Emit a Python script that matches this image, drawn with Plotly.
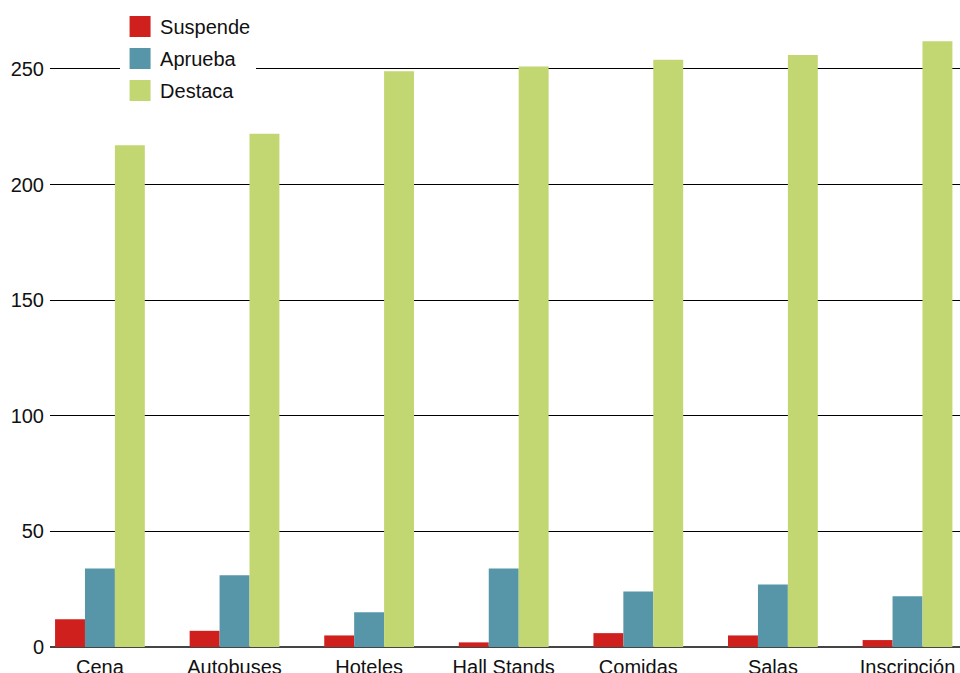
import plotly.graph_objects as go

categories = ["Cena", "Autobuses", "Hoteles", "Hall Stands", "Comidas", "Salas", "Inscripción"]
suspende = [12, 7, 5, 2, 6, 5, 3]
aprueba = [34, 31, 15, 34, 24, 27, 22]
destaca = [217, 222, 249, 251, 254, 256, 262]
series_names = ["Suspende", "Aprueba", "Destaca"]
series_colors = ["#D0201E", "#5796A8", "#C2D672"]
y_ticks = [0, 50, 100, 150, 200, 250]

fig = go.Figure()
for name, vals, col in zip(series_names, [suspende, aprueba, destaca], series_colors):
    fig.add_trace(go.Bar(x=categories, y=vals, name=name, marker=dict(color=col, line=dict(width=0)),
                         showlegend=False, legendgroup=name))
# legend entries with larger square swatches
for name, col in zip(series_names, series_colors):
    fig.add_trace(go.Scatter(x=[None], y=[None], mode="markers", name=name, legendgroup=name,
                             marker=dict(symbol="square", size=16, color=col, line=dict(color=col, width=5)),
                             showlegend=True))

fig.update_layout(
    width=960, height=673,
    margin=dict(l=50, r=0, t=0, b=26),
    paper_bgcolor="white", plot_bgcolor="white",
    barmode="group", bargap=0.333, bargroupgap=0,
    font=dict(family="Liberation Sans, Arial, sans-serif", size=20, color="#111"),
    legend=dict(x=0.077, y=0.989, xanchor="left", yanchor="top", bgcolor="white",
                font=dict(size=20), itemsizing="trace", traceorder="grouped", tracegroupgap=3),
    showlegend=True,
)
fig.update_xaxes(range=[-0.371, 6.39], showgrid=False, ticks="", showline=False, zeroline=False,
                 tickfont=dict(size=20), ticklabelstandoff=6, automargin=False)
fig.update_yaxes(range=[0, 279.8], tickvals=y_ticks, showgrid=True, gridcolor="#000", gridwidth=1,
                 zeroline=True, zerolinecolor="#444", zerolinewidth=2, ticks="", showline=False,
                 tickfont=dict(size=20), ticklabelstandoff=5, automargin=False)

fig.write_html("out.html")
